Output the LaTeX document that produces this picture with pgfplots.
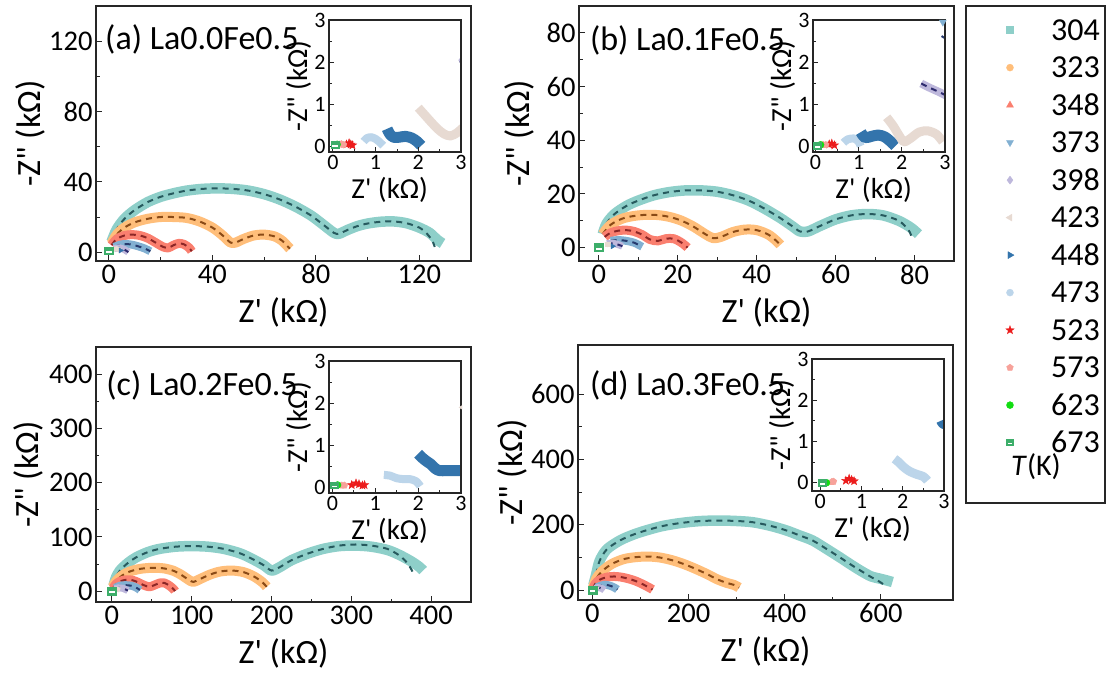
\documentclass[border=0pt]{standalone}
\usepackage{fontspec}
\setmainfont{Carlito}
\usepackage{pgfplots}
\usepackage{pgfplotstable}
\pgfplotsset{compat=1.18}
\usetikzlibrary{plotmarks}

\definecolor{c304}{HTML}{8ECFC9}
\definecolor{c323}{HTML}{FFBE7A}
\definecolor{c348}{HTML}{FA7F6F}
\definecolor{c373}{HTML}{82B0D2}
\definecolor{c398}{HTML}{BEB8DC}
\definecolor{c423}{HTML}{E7DAD2}
\definecolor{c448}{HTML}{3374AC}
\definecolor{c473}{HTML}{BCD5EA}
\definecolor{c523}{HTML}{EC1C1C}
\definecolor{c573}{HTML}{F7A29A}
\definecolor{c623}{HTML}{11DD11}
\definecolor{c673}{HTML}{3DAE6A}
\definecolor{f304}{HTML}{275A5E}
\definecolor{f323}{HTML}{8A4A16}
\definecolor{f348}{HTML}{8C2626}
\definecolor{f373}{HTML}{263A6E}
\definecolor{f398}{HTML}{2E2B6E}

\pgfdeclareplotmark{fstar}{%
 \pgfpathmoveto{\pgfpointpolar{90}{1.25\pgfplotmarksize}}%
 \pgfpathlineto{\pgfpointpolar{126}{0.5\pgfplotmarksize}}%
 \pgfpathlineto{\pgfpointpolar{162}{1.25\pgfplotmarksize}}%
 \pgfpathlineto{\pgfpointpolar{198}{0.5\pgfplotmarksize}}%
 \pgfpathlineto{\pgfpointpolar{234}{1.25\pgfplotmarksize}}%
 \pgfpathlineto{\pgfpointpolar{270}{0.5\pgfplotmarksize}}%
 \pgfpathlineto{\pgfpointpolar{306}{1.25\pgfplotmarksize}}%
 \pgfpathlineto{\pgfpointpolar{342}{0.5\pgfplotmarksize}}%
 \pgfpathlineto{\pgfpointpolar{18}{1.25\pgfplotmarksize}}%
 \pgfpathlineto{\pgfpointpolar{54}{0.5\pgfplotmarksize}}%
 \pgfpathclose\pgfusepathqfillstroke}

\pgfdeclareplotmark{hsq}{%
 \pgfpathrectangle{\pgfpoint{-\pgfplotmarksize}{-0.85\pgfplotmarksize}}{\pgfpoint{2\pgfplotmarksize}{1.7\pgfplotmarksize}}%
 \pgfusepathqfillstroke
 \pgfsetfillcolor{white}%
 \pgfpathrectangle{\pgfpoint{-0.65\pgfplotmarksize}{-0.5\pgfplotmarksize}}{\pgfpoint{1.3\pgfplotmarksize}{0.45\pgfplotmarksize}}%
 \pgfusepathqfill}

\tikzset{pl/.style={font=\fontsize{34}{34}\selectfont, anchor=west, inner sep=0pt}}

\pgfplotsset{
 /pgf/number format/assume math mode=true,
 mainax/.style={scale only axis, width=375pt, height=255pt,
  axis line style={black!85, line width=1.3pt},
  tick align=inside, tick pos=left, minor tick num=1,
  major tick length=6pt, minor tick length=3.5pt,
  major tick style={black!85, line width=1pt}, minor tick style={black!85, line width=0.9pt},
  tick label style={font=\fontsize{28.5}{28.5}\selectfont, black},
  label style={font=\fontsize{34}{34}\selectfont},
  xlabel={Z\textquotesingle\ (kΩ)}, ylabel={-Z\textquotedbl\ (kΩ)},
  xlabel style={at={(axis description cs:0.5,-0.2)}, anchor=center},
  ylabel style={at={(axis description cs:-0.176,0.5)}, anchor=center},
  axis on top},
 insax/.style={scale only axis, width=132pt, height=132pt,
  axis background/.style={fill=white},
  axis line style={black!85, line width=1.2pt},
  tick align=inside, tick pos=left, minor tick num=1,
  major tick length=5pt, minor tick length=3pt,
  major tick style={black!85, line width=0.9pt}, minor tick style={black!85, line width=0.8pt},
  tick label style={font=\fontsize{22}{22}\selectfont, black},
  label style={font=\fontsize{29}{29}\selectfont},
  xtick={0,1,2,3}, ytick={0,1,2,3}, xmax=3, ymax=3,
  xlabel={Z\textquotesingle\ (kΩ)}, ylabel={-Z\textquotedbl\ (kΩ)},
  xlabel style={at={(axis description cs:0.46,-0.29)}, anchor=center},
  ylabel style={at={(axis description cs:-0.23,0.5)}, anchor=center},
  axis on top},
 band/.style={no markers, line width=#1, line join=round, line cap=butt, smooth},
 fit/.style={no markers, line width=2pt, dash pattern=on 6pt off 5pt, smooth},
 m673/.style={only marks, mark=hsq, draw=c673, fill=c673, line width=0.8pt},
}

% ---------- panel (a) ----------
\pgfplotstableread{
x y
1 6
3 13
6 19
10 24
15 28.5
20 31.5
25 33.5
30 35
36 36
42 36.3
48 36
54 35
60 33
66 30
72 26
78 21
83 15.5
87 11
89 10.5
92 12.5
96 14.8
100 16.3
105 17.3
110 17.5
115 16.5
120 14
124 11
127 7
129 5
}\tAa
\pgfplotstableread{
x y
1 6
3 13
6 19
10 24
15 28.5
20 31.5
25 33.5
30 35
36 36
42 36.3
48 36
54 35
60 33
66 30
72 26
78 21
83 15.5
87 11
89 10.5
92 12.5
96 14.8
100 16.3
105 17.3
110 17.5
115 16.5
120 14
123 10.5
125 6.5
126 3
}\tAaf
\pgfplotstableread{
x y
1 5
3 10
6 14
10 17
15 19
20 20
25 20
30 19.5
35 17.5
40 14
44 9.5
47 5.5
49 5.5
52 7.5
56 9.5
60 10
64 9
67 6.5
69 3.5
70 2
}\tAb
\pgfplotstableread{
x y
1 4
3 7.5
6 9.5
9 10
12 9.5
15 8
18 5.5
21 3
23 2.5
25 4
27 5
29 4.5
31 2.5
32 0.5
}\tAc
\pgfplotstableread{
x y
2 3
5 4.5
8 4.5
11 3.5
14 2
16 0.5
}\tAd
\pgfplotstableread{
x y
2 2
4 2.5
6 1.5
7.5 0
}\tAe

% ---------- panel (b) ----------
\pgfplotstableread{
x y
1 5
2 9
4 12.5
7 15.5
10 17.5
14 19.5
18 20.7
22 21.3
26 21.3
30 20.8
34 19.5
38 17.5
42 14.5
46 11
49 8
51 6
53 6
56 8
60 10.5
64 12
68 12.5
72 12
76 10
79 7.5
81 5
}\tBa
\pgfplotstableread{
x y
1 5
2 9
4 12.5
7 15.5
10 17.5
14 19.5
18 20.7
22 21.3
26 21.3
30 20.8
34 19.5
38 17.5
42 14.5
46 11
49 8
51 6
53 6
56 8
60 10.5
64 12
68 12.5
72 12
76 10
78.5 6.5
79.5 3
}\tBaf
\pgfplotstableread{
x y
1 5
3 8.5
6 10.8
9 11.8
12 12.2
15 12.1
18 11.4
21 10
24 7.8
27 5
29 3.5
31 4
34 5.8
37 6.7
40 6.5
43 4.8
45 2.5
46 1
}\tBb
\pgfplotstableread{
x y
1.5 4
3 5.5
5 6.3
7 6.5
9 6
11 4.8
13 3
15 2.5
17 3.3
19 3.3
21 1.8
22.5 0
}\tBc
\pgfplotstableread{
x y
3 2.5
5 2.8
7 2.5
9 1.8
11 0.3
}\tBd
\pgfplotstableread{
x y
2 1.5
4 1.5
6 0.5
}\tBe

% ---------- panel (c) ----------
\pgfplotstableread{
x y
2 10
5 25
10 38
20 52
30 62
45 72
60 78
80 82
100 83
120 82
140 78
160 70
175 60
190 48
200 38
210 44
225 57
245 69
265 78
285 83
305 84
325 82
345 76
360 67
375 55
385 45
390 38
}\tCa
\pgfplotstableread{
x y
2 10
5 25
10 38
20 52
30 62
45 72
60 78
80 82
100 83
120 82
140 78
160 70
175 60
190 48
200 38
210 44
225 57
245 69
265 78
285 84
305 86
325 84
345 78
360 66
370 52
376 38
379 28
}\tCaf
\pgfplotstableread{
x y
1 8
5 18
12 28
22 36
35 41
50 43
65 42
78 37
88 29
96 21
102 17
110 22
122 30
135 36
150 38
165 35
178 27
188 17
194 8
}\tCb
\pgfplotstableread{
x y
1 5
5 13
10 18
18 21
26 20
33 16
40 11
47 8
53 11
60 15
66 15
72 10
77 4
79 0
}\tCc
\pgfplotstableread{
x y
4 6
10 10
17 11
24 10
30 7
35 2
}\tCd
\pgfplotstableread{
x y
3 4
8 6
14 5
20 1
}\tCe

% ---------- panel (d) ----------
\pgfplotstableread{
x y
2 15
8 50
15 90
30 125
57 152
85 170
112 183
145 196
181 205
220 211
257 213
295 212
333 208
370 197
403 183
430 168
458 152
485 128
513 102
540 76
562 56
580 42
596 36
612 30
624 25
}\tDa
\pgfplotstableread{
x y
2 15
8 50
15 90
30 125
57 152
85 170
112 183
145 196
181 205
220 211
257 213
295 212
333 208
370 197
403 183
430 168
458 152
485 128
513 102
540 76
562 56
580 40
595 28
605 18
610 10
}\tDaf
\pgfplotstableread{
x y
1 8
8 35
20 58
40 80
65 95
90 101
115 103
140 100
165 92
190 80
215 65
240 48
260 33
280 22
295 16
305 8
}\tDb
\pgfplotstableread{
x y
1 5
6 20
15 32
30 40
45 42
60 40
75 35
90 28
105 18
118 8
125 2
}\tDc
\pgfplotstableread{
x y
8 8
20 15
30 16
40 12
48 6
52 2
}\tDd
\pgfplotstableread{
x y
5 5
12 8
20 5
25 0
}\tDe

\begin{document}
\begin{tikzpicture}
\path[use as bounding box] (0,0) rectangle (1110pt,675pt);

% ================= (a) =================
\begin{axis}[mainax, at={(96pt,414pt)}, anchor=south west,
 xmin=-5, xmax=140, ymin=-5, ymax=140, xtick={0,40,80,120}, ytick={0,40,80,120}]
\addplot[band=10.5pt, c304] table {\tAa};
\addplot[fit, f304] table {\tAaf};
\addplot[band=10pt, c323] table {\tAb};
\addplot[fit, f323] table {\tAb};
\addplot[band=9pt, c348] table {\tAc};
\addplot[fit, f348] table {\tAc};
\addplot[band=8pt, c373] table {\tAd};
\addplot[fit, f373] table {\tAd};
\addplot[band=7pt, c398] table {\tAe};
\addplot[fit, f398] table {\tAe};
\addplot[band=5pt, c423] coordinates {(1.5,1.5) (3,2) (4.5,1)};
\addplot[only marks, mark=triangle*, mark options={rotate=-90}, mark size=3pt, c448] coordinates {(4.5,1)};
\addplot[m673, mark size=4.5pt] coordinates {(0,0.8)};
\node[pl] at (rel axis cs:0.024,0.867) {(a) La0.0Fe0.5};
\end{axis}
\begin{axis}[insax, at={(329pt,523pt)}, anchor=south west, xmin=-0.09, ymin=-0.13]
\addplot[band=8pt, c473] coordinates {(0.72,0.12) (0.8,0.2) (0.9,0.22) (1.0,0.18) (1.1,0.1) (1.18,0.02)};
\addplot[band=11pt, c448] coordinates {(1.27,0.42) (1.33,0.3) (1.42,0.22) (1.55,0.22) (1.7,0.24) (1.85,0.2) (1.97,0.12) (2.07,0.02)};
\addplot[band=9pt, c423] coordinates {(2.0,0.92) (2.15,0.75) (2.3,0.58) (2.45,0.42) (2.6,0.3) (2.75,0.25) (2.9,0.32) (3.05,0.45)};
\addplot[band=6pt, c398] coordinates {(2.98,2.1) (3.1,2.0)};
\addplot[fit, f398] coordinates {(2.97,2.02) (3.1,1.95)};
\addplot[only marks, mark=fstar, mark size=3.5pt, c523] coordinates {(0.32,0.05) (0.38,0.08) (0.42,0.05) (0.46,0.03)};
\addplot[only marks, mark=pentagon*, mark size=3.5pt, c573] coordinates {(0.15,0.05) (0.2,0.06) (0.25,0.04)};
\addplot[only marks, mark=*, mark size=3.5pt, c623] coordinates {(0.1,0.05)};
\addplot[m673, mark size=4pt] coordinates {(0.05,0.03)};
\end{axis}

% ================= (b) =================
\begin{axis}[mainax, at={(579pt,414pt)}, anchor=south west,
 xmin=-5, xmax=90, ymin=-5, ymax=90, xtick={0,20,...,80}, ytick={0,20,...,80},
 ylabel style={at={(axis description cs:-0.16,0.5)}}]
\addplot[band=10.5pt, c304] table {\tBa};
\addplot[fit, f304] table {\tBaf};
\addplot[band=10pt, c323] table {\tBb};
\addplot[fit, f323] table {\tBb};
\addplot[band=9pt, c348] table {\tBc};
\addplot[fit, f348] table {\tBc};
\addplot[band=8pt, c373] table {\tBd};
\addplot[fit, f373] table {\tBd};
\addplot[band=7pt, c398] table {\tBe};
\addplot[fit, f398] table {\tBe};
\addplot[band=5pt, c423] coordinates {(1.5,1) (3,1)};
\addplot[only marks, mark=triangle*, mark options={rotate=-90}, mark size=3pt, c448] coordinates {(3.5,0.5)};
\addplot[m673, mark size=4.5pt] coordinates {(0,0)};
\node[pl] at (rel axis cs:0.029,0.865) {(b) La0.1Fe0.5};
\end{axis}
\begin{axis}[insax, at={(813pt,523pt)}, anchor=south west, xmin=-0.055, ymin=-0.12]
\addplot[band=8pt, c473] coordinates {(0.65,0.1) (0.75,0.18) (0.9,0.2) (1.0,0.12) (1.05,0.02)};
\addplot[band=11pt, c448] coordinates {(1.05,0.35) (1.15,0.22) (1.3,0.25) (1.45,0.28) (1.6,0.24) (1.75,0.12) (1.85,0.02)};
\addplot[band=9pt, c423] coordinates {(1.65,0.7) (1.8,0.5) (1.95,0.25) (2.05,0.12) (2.2,0.2) (2.4,0.35) (2.6,0.38) (2.8,0.3) (2.95,0.12)};
\addplot[band=8pt, c398] coordinates {(2.45,1.5) (2.6,1.42) (2.75,1.35) (2.9,1.28) (3.05,1.2)};
\addplot[fit, f398] coordinates {(2.45,1.5) (2.6,1.42) (2.75,1.35) (2.9,1.28) (3.05,1.2)};
\addplot[only marks, mark=triangle*, mark options={rotate=180}, mark size=4pt, c373] coordinates {(2.95,2.95)};
\addplot[fit, f373] coordinates {(2.92,2.62) (2.98,2.58)};
\addplot[only marks, mark=fstar, mark size=3.5pt, c523] coordinates {(0.32,0.06) (0.38,0.08) (0.44,0.04)};
\addplot[only marks, mark=pentagon*, mark size=3.5pt, c573] coordinates {(0.18,0.05) (0.24,0.05)};
\addplot[only marks, mark=*, mark size=3.5pt, c623] coordinates {(0.12,0.05)};
\addplot[m673, mark size=4pt] coordinates {(0.05,0.03)};
\end{axis}

% ================= (c) =================
\begin{axis}[mainax, at={(96pt,73pt)}, anchor=south west,
 xmin=-20, xmax=450, ymin=-20, ymax=450, xtick={0,100,...,400}, ytick={0,100,...,400},
 ylabel style={at={(axis description cs:-0.179,0.5)}}]
\addplot[band=10.5pt, c304] table {\tCa};
\addplot[fit, f304] table {\tCaf};
\addplot[band=10pt, c323] table {\tCb};
\addplot[fit, f323] table {\tCb};
\addplot[band=9pt, c348] table {\tCc};
\addplot[fit, f348] table {\tCc};
\addplot[band=8pt, c373] table {\tCd};
\addplot[fit, f373] table {\tCd};
\addplot[band=7pt, c398] table {\tCe};
\addplot[fit, f398] table {\tCe};
\addplot[band=5pt, c423] coordinates {(2,3) (6,4) (10,2)};
\addplot[m673, mark size=4.5pt] coordinates {(0,0)};
\node[pl] at (rel axis cs:0.027,0.85) {(c) La0.2Fe0.5};
\end{axis}
\begin{axis}[insax, at={(329pt,182pt)}, anchor=south west, xmin=-0.08, ymin=-0.13]
\addplot[band=8pt, c473] coordinates {(1.2,0.3) (1.35,0.28) (1.5,0.22) (1.65,0.2) (1.8,0.2) (1.95,0.15) (2.05,0.03)};
\addplot[band=11pt, c448] coordinates {(2.0,0.8) (2.1,0.7) (2.2,0.62) (2.3,0.55) (2.4,0.45) (2.5,0.4) (2.65,0.4) (2.8,0.4) (3.05,0.4)};
\addplot[only marks, mark=triangle*, mark options={rotate=90}, mark size=2pt, c423] coordinates {(3.0,1.9)};
\addplot[only marks, mark=fstar, mark size=3.5pt, c523] coordinates {(0.45,0.06) (0.55,0.1) (0.62,0.08) (0.7,0.05) (0.75,0.06)};
\addplot[only marks, mark=pentagon*, mark size=3.5pt, c573] coordinates {(0.22,0.05) (0.28,0.05)};
\addplot[only marks, mark=*, mark size=3.5pt, c623] coordinates {(0.12,0.06)};
\addplot[m673, mark size=4pt] coordinates {(0.05,0.05)};
\end{axis}

% ================= (d) =================
\begin{axis}[mainax, at={(578pt,75pt)}, anchor=south west,
 xmin=-30, xmax=750, ymin=-30, ymax=750, xtick={0,200,400,600}, ytick={0,200,400,600}]
\addplot[band=10.5pt, c304] table {\tDa};
\addplot[fit, f304] table {\tDaf};
\addplot[band=10pt, c323] table {\tDb};
\addplot[fit, f323] table {\tDb};
\addplot[band=9pt, c348] table {\tDc};
\addplot[fit, f348] table {\tDc};
\addplot[band=8pt, c373] table {\tDd};
\addplot[fit, f373] table {\tDd};
\addplot[band=7pt, c398] table {\tDe};
\addplot[fit, f398] table {\tDe};
\addplot[band=5pt, c423] coordinates {(3,4) (8,5) (12,2)};
\addplot[m673, mark size=4.5pt] coordinates {(0,0)};
\node[pl] at (rel axis cs:0.032,0.843) {(d) La0.3Fe0.5};
\end{axis}
\begin{axis}[insax, at={(812pt,184pt)}, anchor=south west, xmin=-0.2, ymin=-0.2]
\addplot[band=9pt, c473] coordinates {(1.8,0.58) (1.9,0.5) (2.0,0.4) (2.1,0.32) (2.2,0.26) (2.35,0.2) (2.5,0.15) (2.6,0.05)};
\addplot[band=9pt, c448] coordinates {(2.92,1.5) (2.97,1.42) (3.1,1.4)};
\addplot[only marks, mark=fstar, mark size=3.5pt, c523] coordinates {(0.62,0.05) (0.7,0.1) (0.76,0.07) (0.82,0.04)};
\addplot[only marks, mark=pentagon*, mark size=3.5pt, c573] coordinates {(0.28,0.02) (0.32,0.03)};
\addplot[only marks, mark=*, mark size=3.5pt, c623] coordinates {(0.15,0.0)};
\addplot[m673, mark size=4pt] coordinates {(0.05,0.0)};
\end{axis}

% ================= legend =================
\begin{axis}[at={(966pt,172pt)}, anchor=south west, scale only axis, width=139pt, height=497pt,
 hide axis, xmin=0, xmax=1, ymin=0, ymax=1,
 legend cell align=right,
 legend style={at={(axis description cs:0.964,0.972)}, anchor=north east, draw=none, fill=none,
  inner sep=0pt, font=\fontsize{32}{32}\selectfont, row sep=17.5pt,
  nodes={inner sep=0pt, text height=20pt, text depth=0pt},
  /tikz/every odd column/.style={column sep=37pt}}]
\addlegendimage{only marks, mark=square*, c304, mark size=3.5pt}
\addlegendentry{304}
\addlegendimage{only marks, mark=*, c323, mark size=3.5pt}
\addlegendentry{323}
\addlegendimage{only marks, mark=triangle*, c348, mark size=4pt}
\addlegendentry{348}
\addlegendimage{only marks, mark=triangle*, mark options={rotate=180}, c373, mark size=4pt}
\addlegendentry{373}
\addlegendimage{only marks, mark=diamond*, c398, mark size=4pt}
\addlegendentry{398}
\addlegendimage{only marks, mark=triangle*, mark options={rotate=90}, c423, mark size=4pt}
\addlegendentry{423}
\addlegendimage{only marks, mark=triangle*, mark options={rotate=-90}, c448, mark size=4pt}
\addlegendentry{448}
\addlegendimage{only marks, mark=*, c473, mark size=3.5pt}
\addlegendentry{473}
\addlegendimage{only marks, mark=fstar, c523, mark size=3.5pt}
\addlegendentry{523}
\addlegendimage{only marks, mark=pentagon*, c573, mark size=3.5pt}
\addlegendentry{573}
\addlegendimage{only marks, mark=*, c623, mark size=3.5pt}
\addlegendentry{623}
\addlegendimage{m673, mark size=3.5pt}
\addlegendentry{673}
\end{axis}
\draw[black!85, line width=1.3pt] (966pt,172pt) rectangle (1105pt,669pt);
\node[font=\fontsize{30}{30}\selectfont] at (1036pt,208pt) {\textit{T}(K)};
\end{tikzpicture}
\end{document}
